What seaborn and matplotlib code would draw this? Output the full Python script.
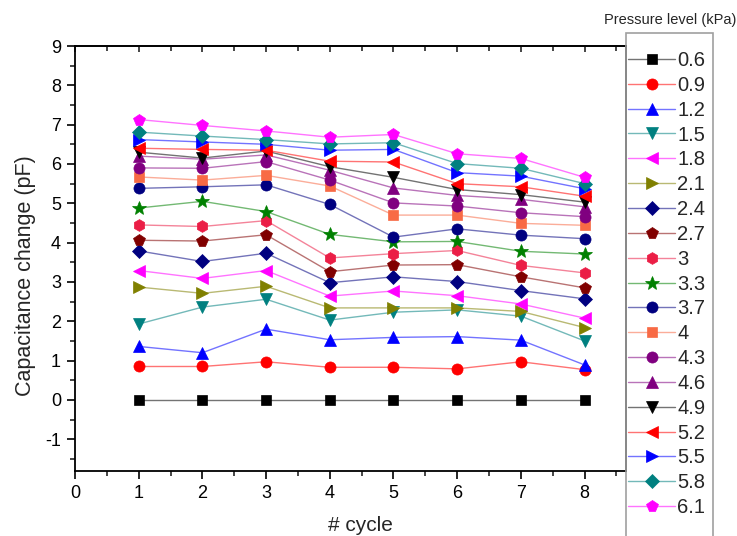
import numpy as np
import pandas as pd
import matplotlib
matplotlib.use("Agg")
import matplotlib.pyplot as plt
from matplotlib.patches import Rectangle
from matplotlib.ticker import MultipleLocator
import seaborn as sns

cycles = [1, 2, 3, 4, 5, 6, 7, 8]
pressure_labels = ["0.6", "0.9", "1.2", "1.5", "1.8", "2.1", "2.4", "2.7", "3",
                   "3.3", "3.7", "4", "4.3", "4.6", "4.9", "5.2", "5.5", "5.8", "6.1"]

p0_6 = [0, 0, 0, 0, 0, 0, 0, 0]
p0_9 = [0.85, 0.85, 0.97, 0.83, 0.83, 0.79, 0.97, 0.77]
p1_2 = [1.36, 1.20, 1.80, 1.53, 1.59, 1.61, 1.52, 0.89]
p1_5 = [1.93, 2.36, 2.56, 2.03, 2.23, 2.29, 2.13, 1.50]
p1_8 = [3.29, 3.09, 3.29, 2.64, 2.77, 2.65, 2.44, 2.08]
p2_1 = [2.87, 2.71, 2.89, 2.34, 2.34, 2.34, 2.25, 1.84]
p2_4 = [3.79, 3.52, 3.73, 2.98, 3.13, 3.01, 2.78, 2.57]
p2_7 = [4.06, 4.04, 4.20, 3.26, 3.43, 3.44, 3.13, 2.85]
p3_0 = [4.45, 4.41, 4.56, 3.61, 3.72, 3.80, 3.42, 3.23]
p3_3 = [4.88, 5.05, 4.79, 4.21, 4.02, 4.03, 3.78, 3.71]
p3_7 = [5.38, 5.42, 5.47, 4.97, 4.14, 4.35, 4.19, 4.10]
p4_0 = [5.67, 5.59, 5.71, 5.44, 4.70, 4.70, 4.49, 4.44]
p4_3 = [5.90, 5.89, 6.06, 5.59, 5.01, 4.93, 4.76, 4.66]
p4_6 = [6.20, 6.12, 6.23, 5.84, 5.39, 5.20, 5.10, 4.91]
p4_9 = [6.30, 6.15, 6.33, 5.93, 5.66, 5.35, 5.22, 5.03]
p5_2 = [6.40, 6.37, 6.35, 6.07, 6.05, 5.50, 5.42, 5.18]
p5_5 = [6.62, 6.56, 6.50, 6.35, 6.37, 5.78, 5.69, 5.37]
p5_8 = [6.81, 6.71, 6.62, 6.51, 6.54, 6.01, 5.89, 5.50]
p6_1 = [7.13, 6.98, 6.84, 6.68, 6.75, 6.26, 6.14, 5.66]

series = [p0_6, p0_9, p1_2, p1_5, p1_8, p2_1, p2_4, p2_7, p3_0, p3_3,
          p3_7, p4_0, p4_3, p4_6, p4_9, p5_2, p5_5, p5_8, p6_1]

colors = ["#000000", "#FF0000", "#0000FF", "#008080", "#FF00FF", "#808000",
          "#000080", "#800000", "#EB1E46", "#008000", "#000080", "#F86A45",
          "#800080", "#800080", "#000000", "#FF0000", "#0000FF", "#008080", "#FF00FF"]
markers = ["s", "o", "^", "v", "<", ">", "D", "p", "h", "*",
           "o", "s", "o", "^", "v", "<", ">", "D", "p"]
msizes = [7.5, 8, 8.5, 8.5, 8.5, 8.5, 7, 8.5, 8.5, 10,
          8, 7.5, 8, 8.5, 8.5, 8.5, 8.5, 7, 8.5]

df = pd.DataFrame({
    "cycle": np.tile(cycles, len(series)),
    "value": np.concatenate(series),
    "pressure": np.repeat(pressure_labels, len(cycles)),
})

sns.set_style("ticks")
plt.rcParams["font.family"] = ["Liberation Sans", "DejaVu Sans"]
plt.rcParams["axes.unicode_minus"] = False

fig = plt.figure(figsize=(7.37, 5.36), dpi=100)
ax = fig.add_axes([75 / 737, 1 - 470.7 / 536, (626 - 75) / 737, (470.7 - 46) / 536])

def lighten(c, a=0.55):
    r, g, b = matplotlib.colors.to_rgb(c)
    return (1 - a * (1 - r), 1 - a * (1 - g), 1 - a * (1 - b))

for lab, col, mk, ms in zip(pressure_labels, colors, markers, msizes):
    sub = df[df["pressure"] == lab]
    sns.lineplot(data=sub, x="cycle", y="value", ax=ax, color=lighten(col),
                 linewidth=1.0, marker=mk, markersize=ms,
                 markerfacecolor=col, markeredgecolor=col, markeredgewidth=0.5,
                 label=lab, legend=True, errorbar=None)

ax.set_xlim(0, 8.65)
ax.set_ylim(-1.8, 9)
ax.xaxis.set_major_locator(MultipleLocator(1))
ax.xaxis.set_minor_locator(MultipleLocator(0.5))
ax.yaxis.set_major_locator(MultipleLocator(1))
ax.yaxis.set_minor_locator(MultipleLocator(0.5))
ax.tick_params(axis="both", which="major", direction="out", length=6, width=1.2,
               labelsize=13, pad=4, colors="#000000")
ax.tick_params(axis="both", which="minor", direction="out", length=3.5, width=1.2)
for sp in ax.spines.values():
    sp.set_linewidth(1.3)
    sp.set_color("#000000")

top = ax.secondary_xaxis("top")
top.xaxis.set_major_locator(MultipleLocator(1))
top.xaxis.set_minor_locator(MultipleLocator(0.5))
top.tick_params(which="major", direction="in", length=4, width=1.2, labeltop=False)
top.tick_params(which="minor", direction="in", length=3.5, width=1.2)
top.spines["top"].set_linewidth(1.3)

ax.set_xlabel("# cycle", fontsize=15)
ax.set_ylabel("Capacitance change (pF)", fontsize=15.5)
ax.xaxis.set_label_coords(0.5 + 10 / 551, -(516 - 470.7) / 424.7)
ax.yaxis.set_label_coords(-(75 - 36) / 551, (470.7 - 276) / 424.7)

ax.legend_.remove()
handles, labels = ax.get_legend_handles_labels()
leg = fig.legend(handles, labels, loc="upper left",
                 bbox_to_anchor=(628 / 737, 1 - 51 / 536), bbox_transform=fig.transFigure,
                 frameon=False, fontsize=14.5, handlelength=2.35, handletextpad=0.1,
                 labelspacing=0.29, borderpad=0, borderaxespad=0, numpoints=1)

fig.patches.append(Rectangle((626 / 737, -0.02), (713 - 626) / 737, 0.02 + 1 - 33 / 536,
                             transform=fig.transFigure, fill=False,
                             edgecolor="#A0A0A0", linewidth=1.2))
fig.text(670 / 737, 1 - 20 / 536, "Pressure level (kPa)", fontsize=10.5,
         ha="center", va="center")

fig.savefig("out.png", dpi=100)
